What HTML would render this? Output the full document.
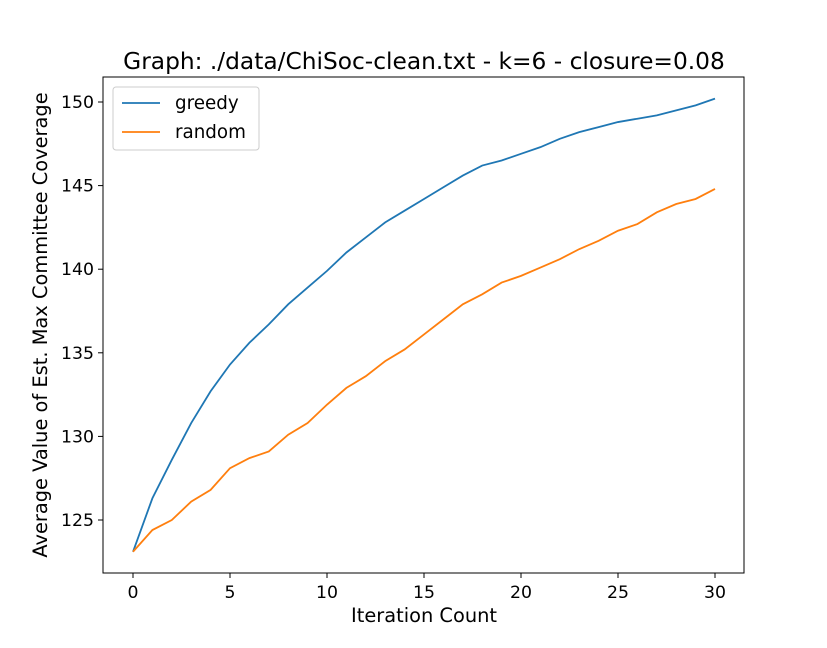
<!DOCTYPE html>
<html><head><meta charset="utf-8"><style>
body{margin:0;background:#fff}
svg text{font-family:"DejaVu Sans","Liberation Sans",sans-serif;fill:#000}
</style></head><body>
<svg id="chart" width="827" height="643">
<rect x="0" y="0" width="827" height="643" fill="#fff"/>
<text x="424" y="69" font-size="23.3" text-anchor="middle">Graph: ./data/ChiSoc-clean.txt - k=6 - closure=0.08</text>
<g id="axes"></g>
<text x="424" y="622" font-size="19.4" text-anchor="middle">Iteration Count</text>
<text transform="translate(47,325) rotate(-90)" font-size="19.4" text-anchor="middle">Average Value of Est. Max Committee Coverage</text>
</svg>
<script>
const iterations=[0,1,2,3,4,5,6,7,8,9,10,11,12,13,14,15,16,17,18,19,20,21,22,23,24,25,26,27,28,29,30];
const greedy=[123.1,126.3,128.6,130.8,132.7,134.3,135.6,136.7,137.9,138.9,139.9,141.0,141.9,142.8,143.5,144.2,144.9,145.6,146.2,146.5,146.9,147.3,147.8,148.2,148.5,148.8,149.0,149.2,149.5,149.8,150.2];
const random=[123.1,124.4,125.0,126.1,126.8,128.1,128.7,129.1,130.1,130.8,131.9,132.9,133.6,134.5,135.2,136.1,137.0,137.9,138.5,139.2,139.6,140.1,140.6,141.2,141.7,142.3,142.7,143.4,143.9,144.2,144.8];
const xTicks=[0,5,10,15,20,25,30];
const yTicks=[125,130,135,140,145,150];
const NS="http://www.w3.org/2000/svg";
const L=103,R=744,T=77,B=573;
function xs(v){return 133+v*(715-133)/30;}
function ys(v){return 520-(v-125)*(520-102)/25;}
const g=document.getElementById('axes');
function mk(t,a){const e=document.createElementNS(NS,t);for(const k in a)e.setAttribute(k,a[k]);g.appendChild(e);return e;}
xTicks.forEach(t=>{
 const l=mk('line',{x1:xs(t),x2:xs(t),y1:B,y2:B+5,stroke:'#000'});
 
 
 const tx=mk('text',{x:xs(t),y:B+25,'font-size':17.3,'text-anchor':'middle'});tx.textContent=t;
 
 
});
yTicks.forEach(t=>{
 const l=mk('line',{x1:L-5,x2:L,y1:ys(t),y2:ys(t),stroke:'#000'});
 
 
 const tx=mk('text',{x:L-9,y:ys(t)+6,'font-size':17.3,'text-anchor':'end'});tx.textContent=t;
 
 
});
function series(d,c,n){
 const p=mk('polyline',{points:d.map((v,i)=>xs(iterations[i])+','+ys(v)).join(' '),fill:'none',stroke:c,'stroke-width':1.8});
 
 
}
series(greedy,'#1f77b4','greedy-line');
series(random,'#ff7f0e','random-line');
const fr=mk('rect',{x:L,y:T,width:R-L,height:B-T,fill:'none',stroke:'#000','stroke-width':1});


const lg=mk('rect',{x:113,y:87,width:146,height:63,rx:3,fill:'#fff',stroke:'#ccc'});


[['greedy','#1f77b4',103],['random','#ff7f0e',132]].forEach(([n,c,y])=>{
 const l=mk('line',{x1:122,x2:160,y1:y,y2:y,stroke:c,'stroke-width':1.8});
 
 
 const t=mk('text',{x:175,y:y+6,'font-size':18.3});t.textContent=n;
 
 
});
</script>
</body></html>
